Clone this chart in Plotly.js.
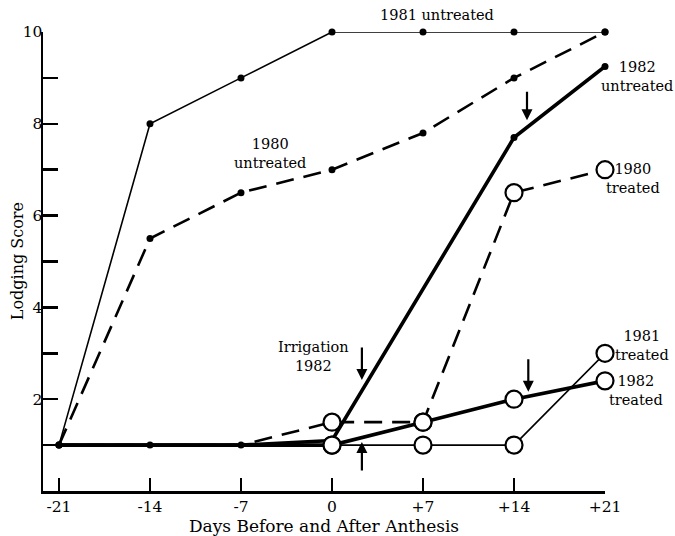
<!DOCTYPE html>
<html>
<head>
<meta charset="utf-8">
<script src="https://cdn.plot.ly/plotly-3.0.1.min.js"></script>
<style>html,body{margin:0;padding:0;background:#fff;}#chart{width:675px;height:536px;}</style>
</head>
<body>
<div id="chart"></div>
<script>
// Days before/after anthesis
const days = [-21, -14, -7, 0, 7, 14, 21];
const dayLabels = ['-21', '-14', '-7', '0', '+7', '+14', '+21'];
// Lodging scores
const untreated1981 = [1, 8, 9, 10, 10, 10, 10];
const untreated1980 = [1, 5.5, 6.5, 7, 7.8, 9, 10];
const untreated1982 = [1, 1, 1, 1.1, null, 7.7, 9.25];
const treated1980 = [1, 1, 1, 1.5, 1.5, 6.5, 7];
const treated1981 = [1, 1, 1, 1, 1, 1, 3];
const treated1982 = [1, 1, 1, 1, 1.5, 2, 2.4];
const yTicks = [1, 2, 3, 4, 5, 6, 7, 8, 9, 10];
const yTickText = ['', '2', '', '4', '', '6', '', '8', '', '10'];

const FONT = 'DejaVu Serif, Liberation Serif, serif';
const treatedSizes = [0, 0, 0, 17, 17, 17, 17];

function line(y, width, dash, name) {
  return {x: days, y: y, type: 'scatter', mode: 'lines', name: name,
    connectgaps: true, line: {color: '#000', width: width, dash: dash},
    cliponaxis: false, hoverinfo: 'skip'};
}
function dots(y, name) {
  return {x: days, y: y, type: 'scatter', mode: 'markers', name: name,
    marker: {color: '#000', size: 7, symbol: 'circle', opacity: 1}, cliponaxis: false};
}
function rings(y, name) {
  return {x: days, y: y, type: 'scatter', mode: 'markers', name: name,
    marker: {color: '#fff', size: treatedSizes, symbol: 'circle', opacity: 1,
             line: {color: '#000', width: 2.2}},
    cliponaxis: false};
}

const data = [
  line(treated1980, 2.6, '18px,10px', '1980 treated'),
  line(treated1981, 1.6, 'solid', '1981 treated'),
  line(untreated1980, 2.6, '18px,10px', '1980 untreated'),
  line(untreated1981, 1.6, 'solid', '1981 untreated'),
  line(treated1982, 3.6, 'solid', '1982 treated'),
  line(untreated1982, 3.6, 'solid', '1982 untreated'),
  dots(untreated1981, '1981 untreated'),
  dots(untreated1980, '1980 untreated'),
  dots(untreated1982, '1982 untreated'),
  rings(treated1980, '1980 treated'),
  rings(treated1981, '1981 treated'),
  rings(treated1982, '1982 treated')
];

function label(text, x, y, ref) {
  return {text: text, x: x, y: y, xref: ref || 'x', yref: ref ? 'paper' : 'y', showarrow: false,
    xanchor: 'center', yanchor: 'middle',
    font: {family: FONT, size: 14.5, color: '#000'}, align: 'center'};
}
function arrow(x, y, ay) {
  return {text: '', x: x, y: y, xref: 'x', yref: 'y', showarrow: true,
    ax: 0, ay: ay, arrowhead: 2, arrowsize: 1, arrowwidth: 2.2, arrowcolor: '#000'};
}

const layout = {
  width: 675, height: 536,
  margin: {l: 43, r: 70, t: 32, b: 45},
  paper_bgcolor: '#fff', plot_bgcolor: '#fff',
  showlegend: false,
  font: {family: FONT, color: '#000', size: 15},
  xaxis: {
    range: [-22.23, 21], tickvals: days, ticktext: dayLabels,
    ticks: 'inside', ticklen: 13, tickwidth: 2.5, tickcolor: '#000',
    showline: true, linewidth: 2.5, linecolor: '#000',
    showgrid: false, zeroline: false, fixedrange: true,
    tickfont: {family: FONT, size: 15.5},
    title: {text: 'Days Before and After Anthesis', font: {family: FONT, size: 17}, standoff: 0}
  },
  yaxis: {
    range: [0, 10], tickvals: yTicks, ticktext: yTickText,
    ticks: 'inside', ticklen: 15, tickwidth: 2.5, tickcolor: '#000',
    showline: true, linewidth: 2.5, linecolor: '#000',
    showgrid: false, zeroline: false, fixedrange: true,
    tickfont: {family: FONT, size: 15.5}, ticklabelstandoff: -5
  },
  annotations: [
    {text: 'Lodging Score', xref: 'paper', yref: 'paper', x: -0.045, y: 0.5,
     xanchor: 'center', yanchor: 'middle', textangle: -90, showarrow: false,
     font: {family: FONT, size: 16, color: '#000'}},
    label('1981 untreated', 0.701, 1.037, 'paper'),
    label('1980<br>untreated', -4.77, 7.36),
    label('1982<br>untreated', 1.057, 0.904, 'paper'),
    label('1980<br>treated', 1.050, 0.680, 'paper'),
    label('1981<br>treated', 1.066, 0.318, 'paper'),
    label('1982<br>treated', 1.055, 0.218, 'paper'),
    label('Irrigation<br>1982', -1.46, 2.94),
    arrow(15.0, 8.08, -30),
    arrow(2.3, 2.42, -34),
    arrow(2.3, 1.07, 30),
    arrow(15.1, 2.16, -34)
  ]
};

Plotly.newPlot('chart', data, layout, {displayModeBar: false, staticPlot: true});
</script>
</body>
</html>
